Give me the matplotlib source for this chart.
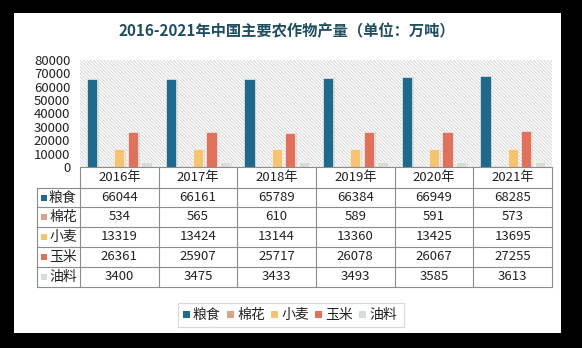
import matplotlib
matplotlib.use("Agg")
import matplotlib.pyplot as plt
import numpy as np

plt.rcParams['font.family'] = ['Noto Sans CJK SC', 'DejaVu Sans']
plt.rcParams['hatch.linewidth'] = 0.6

years = ["2016年", "2017年", "2018年", "2019年", "2020年", "2021年"]
names = ["粮食", "棉花", "小麦", "玉米", "油料"]
grain = [66044, 66161, 65789, 66384, 66949, 68285]
cotton = [534, 565, 610, 589, 591, 573]
wheat = [13319, 13424, 13144, 13360, 13425, 13695]
corn = [26361, 25907, 25717, 26078, 26067, 27255]
oil = [3400, 3475, 3433, 3493, 3585, 3613]
colors = ["#1f6a8a", "#d9a58a", "#f5c371", "#e0715d", "#d6ddd8"]
series = [grain, cotton, wheat, corn, oil]

W, H = 582, 348
fig = plt.figure(figsize=(W / 100, H / 100), dpi=100)
fig.patch.set_facecolor("black")

# white card inside the black frame
card = plt.Rectangle((14 / W, 1 - 333 / H), (561 - 14) / W, (333 - 13) / H,
                     transform=fig.transFigure, facecolor="white", edgecolor="none", zorder=-10)
fig.add_artist(card)

ax_l, ax_r, ax_t, ax_b = 80, 552, 60, 167
ax = fig.add_axes([ax_l / W, 1 - ax_b / H, (ax_r - ax_l) / W, (ax_b - ax_t) / H])
ax.set_facecolor("white")
ax.add_patch(plt.Rectangle((0, 0), 1, 1, transform=ax.transAxes, facecolor="white",
                           edgecolor="#cfcfcf", linewidth=0, hatch="\\" * 10, zorder=0))

x = np.arange(len(years))
step = 0.172
width = 0.13
for i, (vals, c) in enumerate(zip(series, colors)):
    off = (i - 2) * step
    # soft shadow
    ax.bar(x + off + 0.02, vals, width, color="#c8c8c8", alpha=0.45, zorder=1)
    ax.bar(x + off, vals, width, color=c, edgecolor="white", linewidth=0.4, zorder=2)

ax.set_xlim(-0.5, len(years) - 0.5)
ax.set_ylim(0, 80000)
ax.set_yticks(np.arange(0, 80001, 10000))
ax.tick_params(axis="y", length=0, pad=7, labelsize=9.5, labelcolor="#222222")
ax.set_xticks([])
for s in ax.spines.values():
    s.set_visible(False)

# data table
row_lines = [167, 188, 207, 227, 247, 267, 287]
line_kw = dict(color="#8c8c8c", linewidth=0.8)
tx = ax.get_xaxis_transform()


def y_ax(py):
    return (ax_b - py) / (ax_b - ax_t)


# horizontal lines
for k, py in enumerate(row_lines):
    x0 = 37 if k >= 1 else ax_l
    fig.add_artist(plt.Line2D([x0 / W, ax_r / W], [1 - py / H, 1 - py / H],
                              transform=fig.transFigure, **line_kw))
# vertical lines between year columns
for b in np.arange(-0.5, len(years)):
    ax.plot([b, b], [y_ax(167), y_ax(287)], transform=tx, clip_on=False, **line_kw)
fig.add_artist(plt.Line2D([37 / W, 37 / W], [1 - 188 / H, 1 - 287 / H],
                          transform=fig.transFigure, **line_kw))

# header
for i, yr in enumerate(years):
    ax.text(i, y_ax(177.5), yr, transform=tx, ha="center", va="center",
            fontsize=9.5, color="#222222")

# rows
for r, (name, vals, c) in enumerate(zip(names, series, colors)):
    cy = (row_lines[r + 1] + row_lines[r + 2]) / 2
    fig.add_artist(plt.Rectangle(((41) / W, 1 - (cy + 3) / H), 6 / W, 6 / H,
                                 transform=fig.transFigure, facecolor=c, edgecolor="none"))
    fig.text(49 / W, 1 - cy / H, name, ha="left", va="center", fontsize=10, color="#222222")
    for i, v in enumerate(vals):
        ax.text(i, y_ax(cy), str(v), transform=tx, ha="center", va="center",
                fontsize=9.5, color="#222222")

# legend
leg_box = plt.Rectangle((178 / W, 1 - 327 / H), (404 - 178) / W, 24 / H,
                        transform=fig.transFigure, facecolor="white",
                        edgecolor="#d9d9d9", linewidth=0.8)
fig.add_artist(leg_box)
lx = 183
for name, c in zip(names, colors):
    fig.add_artist(plt.Rectangle((lx / W, 1 - 318 / H), 7 / W, 7 / H,
                                 transform=fig.transFigure, facecolor=c, edgecolor="none"))
    fig.text((lx + 10) / W, 1 - 314.5 / H, name, ha="left", va="center",
             fontsize=10, color="#222222")
    lx += 44

fig.text(287 / W, 1 - 31 / H, "2016-2021年中国主要农作物产量（单位：万吨）",
         ha="center", va="center", fontsize=11, fontweight="bold", color="#1f4e5f")

fig.savefig("out.png", dpi=100, facecolor=fig.get_facecolor())
